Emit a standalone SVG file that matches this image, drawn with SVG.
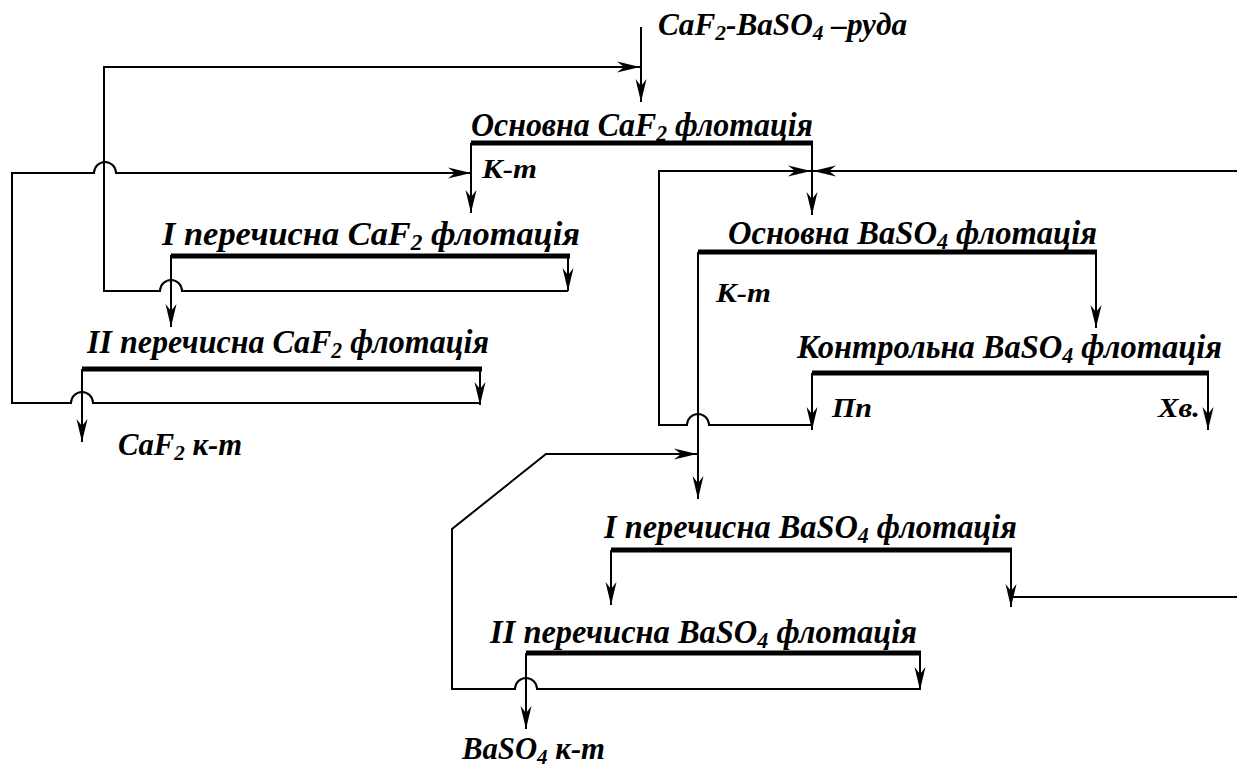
<svg xmlns="http://www.w3.org/2000/svg" width="1237" height="771" viewBox="0 0 1237 771">
<style>
.t{font-family:"Liberation Serif","Times New Roman",serif;font-weight:bold;font-style:italic;fill:#000}
.ti{font-size:34px}
.lb{font-size:27px}
.pr{font-size:32px}
.c{fill:none;stroke:#000;stroke-width:2}
.bar{stroke:#000;stroke-width:5;fill:none}
</style>
<defs>
<marker id="ah" markerUnits="userSpaceOnUse" markerWidth="26" markerHeight="14" viewBox="-24 -7 26 14" refX="0" refY="0" orient="auto">
<path d="M0,0 L-23,-5.5 L-16,0 L-23,5.5 Z" fill="#000"/>
</marker>
</defs>
<rect width="1237" height="771" fill="#fff"/>

<g id="feed">
<text class="t pr" x="658" y="35" textLength="249" lengthAdjust="spacingAndGlyphs">CaF<tspan font-size="22" dy="5">2</tspan><tspan dy="-5">-BaSO</tspan><tspan font-size="22" dy="5">4</tspan><tspan dy="-5"> –руда</tspan></text>
</g>

<g id="osn-caf2">
<text class="t ti" x="471" y="136" textLength="342" lengthAdjust="spacingAndGlyphs">Основна CaF<tspan font-size="23" dy="5">2</tspan><tspan dy="-5"> флотація</tspan></text>
<line class="bar" x1="471" y1="143" x2="813" y2="143"/>
</g>

<g id="i-caf2">
<text class="t ti" x="162" y="245" textLength="418" lengthAdjust="spacingAndGlyphs">I перечисна CaF<tspan font-size="23" dy="5">2</tspan><tspan dy="-5"> флотація</tspan></text>
<line class="bar" x1="171" y1="256" x2="570" y2="256"/>
</g>

<g id="ii-caf2">
<text class="t ti" x="87" y="353" textLength="402" lengthAdjust="spacingAndGlyphs">II перечисна CaF<tspan font-size="23" dy="5">2</tspan><tspan dy="-5"> флотація</tspan></text>
<line class="bar" x1="82" y1="369" x2="482" y2="369"/>
</g>

<g id="osn-baso4">
<text class="t ti" x="728" y="244" textLength="369" lengthAdjust="spacingAndGlyphs">Основна BaSO<tspan font-size="23" dy="5">4</tspan><tspan dy="-5">  флотація</tspan></text>
<line class="bar" x1="698" y1="252" x2="1097" y2="252"/>
</g>

<g id="kontr-baso4">
<text class="t ti" x="797" y="358" textLength="425" lengthAdjust="spacingAndGlyphs">Контрольна BaSO<tspan font-size="23" dy="5">4</tspan><tspan dy="-5">  флотація</tspan></text>
<line class="bar" x1="812" y1="373" x2="1209" y2="373"/>
</g>

<g id="i-baso4">
<text class="t ti" x="604" y="538" textLength="413" lengthAdjust="spacingAndGlyphs">I перечисна BaSO<tspan font-size="23" dy="5">4</tspan><tspan dy="-5">  флотація</tspan></text>
<line class="bar" x1="611" y1="550" x2="1012" y2="550"/>
</g>

<g id="ii-baso4">
<text class="t ti" x="490" y="643" textLength="427" lengthAdjust="spacingAndGlyphs">II перечисна BaSO<tspan font-size="23" dy="5">4</tspan><tspan dy="-5">  флотація</tspan></text>
<line class="bar" x1="526" y1="653" x2="921" y2="653"/>
</g>

<g id="labels">
<text class="t lb" x="482" y="178" textLength="55" lengthAdjust="spacingAndGlyphs">К-т</text>
<text class="t lb" x="716" y="302" textLength="55" lengthAdjust="spacingAndGlyphs">К-т</text>
<text class="t lb" x="832" y="417" textLength="40" lengthAdjust="spacingAndGlyphs">Пп</text>
<text class="t lb" x="1158" y="417" textLength="42" lengthAdjust="spacingAndGlyphs">Хв.</text>
</g>

<g id="caf2-kt">
<text class="t pr" x="118" y="455" textLength="124" lengthAdjust="spacingAndGlyphs">CaF<tspan font-size="22" dy="5">2</tspan><tspan dy="-5"> к-т</tspan></text>
</g>

<g id="baso4-kt">
<text class="t pr" x="462" y="759" textLength="143" lengthAdjust="spacingAndGlyphs">BaSO<tspan font-size="22" dy="5">4</tspan><tspan dy="-5"> к-т</tspan></text>
</g>

<g id="connectors">
<path class="c" d="M641,27 L641,102" marker-end="url(#ah)"/>
<path class="c" d="M568,256 L568,291" marker-end="url(#ah)"/>
<path class="c" d="M568,291 L182,291 A11,11 0 0 0 160,291 L104,291 L104,67 L640,67" marker-end="url(#ah)"/>
<path class="c" d="M471,143 L471,213" marker-end="url(#ah)"/>
<path class="c" d="M480,369 L480,405" marker-end="url(#ah)"/>
<path class="c" d="M480,403 L93,403 A11,11 0 0 0 71,403 L12,403 L12,173 L94,173 A11,11 0 0 1 116,173 L471,173" marker-end="url(#ah)"/>
<path class="c" d="M171,255 L171,327" marker-end="url(#ah)"/>
<path class="c" d="M82,369 L82,442" marker-end="url(#ah)"/>
<path class="c" d="M812,143 L812,215" marker-end="url(#ah)"/>
<path class="c" d="M1237,171 L813,171" marker-end="url(#ah)"/>
<path class="c" d="M812,373 L812,430" marker-end="url(#ah)"/>
<path class="c" d="M812,425 L709,425 A11,11 0 0 0 687,425 L659,425 L659,171 L811,171" marker-end="url(#ah)"/>
<path class="c" d="M1096,252 L1096,328" marker-end="url(#ah)"/>
<path class="c" d="M1208,373 L1208,430" marker-end="url(#ah)"/>
<path class="c" d="M698,252 L698,499" marker-end="url(#ah)"/>
<path class="c" d="M920,653 L920,690" marker-end="url(#ah)"/>
<path class="c" d="M920,689 L537,689 A11,11 0 0 0 515,689 L452,689 L452,529 L546,454 L697,454" marker-end="url(#ah)"/>
<path class="c" d="M611,550 L611,605" marker-end="url(#ah)"/>
<path class="c" d="M1011,550 L1011,607" marker-end="url(#ah)"/>
<path class="c" d="M1237,597 L1011,597"/>
<path class="c" d="M526,653 L526,729" marker-end="url(#ah)"/>
</g>
</svg>
